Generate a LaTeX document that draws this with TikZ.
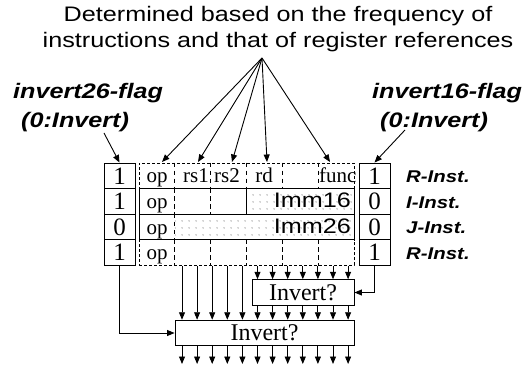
\documentclass[tikz,border=0pt]{standalone}
\usepackage{fontspec}
\setmainfont{Liberation Serif}
\newfontfamily\notefont[FakeStretch=1.2]{Liberation Sans}
\usepackage{tikz}
\usetikzlibrary{arrows.meta, positioning, patterns.meta}

\begin{document}
\begin{tikzpicture}[
  x=1pt, y=-1pt,
  flagbox/.style={rectangle, draw, line width=0.9pt, minimum width=31pt,
                  minimum height=25.6pt, inner sep=0pt, font=\fontsize{25}{25}\selectfont},
  rowbox/.style={rectangle, draw, line width=0.9pt, minimum width=215pt,
                 minimum height=25.6pt, inner sep=0pt},
  invbox/.style={rectangle, draw, line width=0.9pt, minimum height=25.6pt,
                 inner sep=0pt, font=\fontsize{24}{24}\selectfont},
  field/.style={anchor=base, inner sep=0pt, font=\fontsize{21}{21}\selectfont},
  imm/.style={anchor=base east, inner sep=0pt, font=\notefont\fontsize{21}{21}\selectfont},
  sep/.style={line width=1.1pt, dash pattern=on 4.5pt off 3.5pt},
  dots/.style={pattern={Dots[distance=6.5pt, radius=0.6pt]}, pattern color=black!70},
  arr/.style={-{Triangle[length=7.5pt, width=6pt]}, line width=0.9pt},
  note/.style={inner sep=0pt, align=center, font=\notefont\fontsize{21}{25.5}\selectfont},
  flaglabel/.style={inner sep=0pt, anchor=west, align=left,
                    font=\notefont\fontsize{21}{29}\selectfont\bfseries\itshape},
  instlabel/.style={inner sep=0pt, anchor=west,
                    font=\notefont\fontsize{17}{17}\selectfont\bfseries\itshape}
]
  \useasboundingbox (0,0) rectangle (532,371);

  % explanation at the top
  \node[note] (note) at (278,29) {Determined based on the frequency of\\instructions and that of register references};
  \node[flaglabel] (lbl26) at (13,108) {invert26-flag\\\hspace{8pt}(0:Invert)};
  \node[flaglabel] (lbl16) at (372,108) {invert16-flag\\\hspace{8pt}(0:Invert)};

  % immediate fields
  \draw[dots, line width=0.9pt] (246.5,188.6) rectangle (354,214.2);
  \path[dots] (174.8,214.2) rectangle (354,239.8);

  % instruction rows
  \node[rowbox, densely dashed] (rowa) at (246.5,175.8) {};
  \node[rowbox, densely dashed] (rowd) at (246.5,252.6) {};
  \node[rowbox] (rowb) at (246.5,201.4) {};
  \node[rowbox] (rowc) at (246.5,227) {};

  \foreach \k in {1,...,5}
    \coordinate (b\k) at ({139+35.83*\k},0);
  \foreach \k in {1,...,5} {
    \draw[sep] (rowa.north -| b\k) -- (rowa.south -| b\k);
    \draw[sep] (rowd.north -| b\k) -- (rowd.south -| b\k);
  }
  \foreach \k in {1,2}
    \draw[sep] (rowb.north -| b\k) -- (rowb.south -| b\k);
  \draw[sep] (rowc.north -| b1) -- (rowc.south -| b1);

  \node[field] (opa) at (157,183) {op};
  \node[field] (rs1) at (196,183) {rs1};
  \node[field] (rs2) at (227,183) {rs2};
  \node[field] (rd) at (264,183) {rd};
  \node[field, anchor=base west] (func) at (319,183) {func};
  \node[field] (opb) at (157,208.6) {op};
  \node[field] (opc) at (157,234.2) {op};
  \node[field] (opd) at (157,259.8) {op};
  \node[imm] (imm16) at (351,207.5) {Imm16};
  \node[imm] (imm26) at (351,233.1) {Imm26};

  % flag columns
  \node[flagbox] (f26a) at (119.5,175.8) {1};
  \node[flagbox] (f26b) at (119.5,201.4) {1};
  \node[flagbox] (f26c) at (119.5,227) {0};
  \node[flagbox] (f26d) at (119.5,252.6) {1};
  \node[flagbox] (f16a) at (374.5,175.8) {1};
  \node[flagbox] (f16b) at (374.5,201.4) {0};
  \node[flagbox] (f16c) at (374.5,227) {0};
  \node[flagbox] (f16d) at (374.5,252.6) {1};

  \node[instlabel] (insta) at (406,177) {R-Inst.};
  \node[instlabel] (instb) at (406,202.5) {I-Inst.};
  \node[instlabel] (instc) at (406,228) {J-Inst.};
  \node[instlabel] (instd) at (406,253.5) {R-Inst.};

  % inverters
  \node[invbox, minimum width=102pt] (inv16) at (303,292.5) {Invert?};
  \node[invbox, minimum width=179pt] (inv26) at (264.5,333) {Invert?};

  % arrows from the note and the flag labels
  \coordinate (fan) at (262,58);
  \coordinate (hop) at (162,162);
  \coordinate (hrs1) at (198,162);
  \coordinate (hrs2) at (232,162);
  \coordinate (hrd) at (267,162);
  \coordinate (hfunc) at (330,162);
  \foreach \t in {hop, hrs1, hrs2, hrd, hfunc}
    \draw[arr] (fan) -- (\t);
  \coordinate (p26) at (104,133);
  \coordinate (p16) at (405,130);
  \draw[arr] (p26) -- (f26a.north);
  \draw[arr] (p16) -- (f16a.north);

  % bit lanes
  \foreach \i in {0,...,11}
    \coordinate (col\i) at ({182+15.1*\i},0);
  \coordinate (outl) at (0,364);
  \foreach \i in {0,...,4}
    \draw[arr] (rowd.south -| col\i) -- (inv26.north -| col\i);
  \foreach \i in {5,...,11} {
    \draw[arr] (rowd.south -| col\i) -- (inv16.north -| col\i);
    \draw[arr] (inv16.south -| col\i) -- (inv26.north -| col\i);
  }
  \foreach \i in {0,...,11}
    \draw[arr] (inv26.south -| col\i) -- (outl -| col\i);

  \draw[arr] (f16d.south) |- (inv16.east);
  \draw[arr] (f26d.south) |- (inv26.west);
\end{tikzpicture}
\end{document}
